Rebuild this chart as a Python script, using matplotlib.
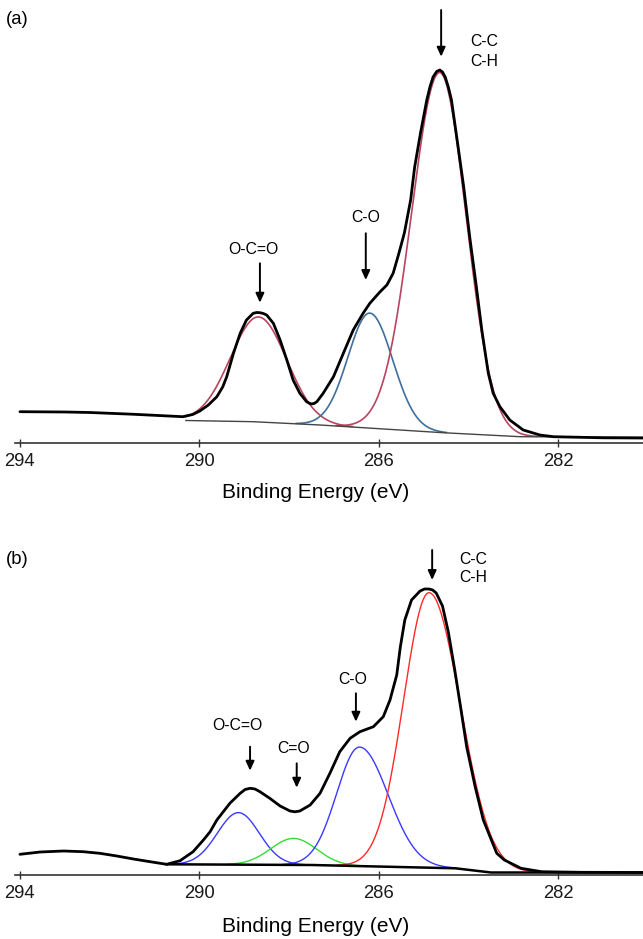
import numpy as np
import matplotlib
matplotlib.use('Agg')
import matplotlib.pyplot as plt

plt.rcParams['font.family'] = ['Liberation Sans', 'DejaVu Sans']

# ---------------- Panel (a) ----------------
a_energy = [294.00, 293.00, 292.44, 291.50, 290.37, 290.15, 289.99, 289.80, 289.61, 289.48,
            289.39, 289.24, 289.09, 288.95, 288.80, 288.72, 288.65, 288.58, 288.50, 288.35,
            288.20, 288.05, 287.91, 287.76, 287.61, 287.55, 287.50, 287.44, 287.38, 287.24,
            287.01, 286.79, 286.57, 286.35, 286.20, 285.97, 285.82, 285.68, 285.55, 285.43,
            285.29, 285.20, 285.07, 284.93, 284.86, 284.79, 284.71, 284.64, 284.58, 284.52,
            284.45, 284.38, 284.25, 284.11, 283.97, 283.83, 283.70, 283.56, 283.45, 283.30,
            283.08, 282.78, 282.41, 282.11, 281.00, 280.11]
a_counts = [31.3, 31.0, 30.5, 28.8, 26.3, 28.5, 32.0, 38.0, 46.3, 56.0,
            66.3, 89.7, 109.7, 123.0, 129.7, 130.5, 130.3, 129.6, 128.0, 119.7,
            103.0, 83.0, 63.0, 49.7, 41.3, 39.8, 39.0, 39.6, 41.3, 49.7,
            66.3, 89.7, 113.0, 129.7, 139.7, 151.3, 158.0, 169.7, 190.0, 210.0,
            243.0, 276.0, 310.0, 343.0, 356.0, 366.0, 371.5, 373.0, 371.0, 366.0,
            356.0, 343.0, 302.0, 257.0, 205.0, 158.0, 112.0, 70.0, 49.7, 36.3,
            23.0, 13.0, 8.0, 6.3, 5.2, 5.0]
a_bg_energy = [290.30, 288.80, 287.31, 284.57, 282.85, 280.11]
a_bg_counts = [22.5, 21.3, 18.0, 10.3, 6.3, 5.7]

a_peak_names = ['O-C=O', 'C-O', 'C-C']
a_peak_center = [288.68, 286.20, 284.64]
a_peak_height = [105.0, 115.0, 360.0]
a_hw_high = [0.74, 0.575, 0.74]
a_hw_low = [0.74, 0.60, 0.69]
a_peak_colors = ['#b8445f', '#3f6f9c', '#b8445f']

# ---------------- Panel (b) ----------------
b_energy = [294.00, 293.55, 293.03, 292.59, 292.22, 291.84, 291.47, 291.10, 290.73, 290.43,
            290.14, 289.91, 289.76, 289.61, 289.32, 289.09, 288.98, 288.87, 288.76, 288.65,
            288.43, 288.20, 287.98, 287.87, 287.76, 287.53, 287.31, 287.09, 286.87, 286.64,
            286.42, 286.12, 285.90, 285.75, 285.60, 285.52, 285.42, 285.27, 285.08, 284.98,
            284.88, 284.80, 284.72, 284.58, 284.45, 284.31, 284.17, 284.04, 283.85, 283.67,
            283.37, 283.20, 282.83, 282.37, 281.50, 280.11]
b_counts = [20.7, 23.0, 24.0, 23.3, 21.7, 19.0, 16.0, 13.3, 10.7, 14.3,
            23.3, 35.0, 43.3, 55.0, 71.7, 81.7, 85.5, 86.7, 86.0, 83.3,
            76.7, 69.0, 64.0, 63.2, 64.0, 70.0, 81.7, 101.7, 123.3, 136.7,
            143.3, 148.3, 158.3, 175.0, 200.0, 228.0, 255.0, 275.0, 284.0, 286.0,
            286.0, 285.0, 282.0, 269.0, 243.0, 206.0, 166.0, 128.0, 88.0, 55.0,
            21.7, 15.0, 6.7, 3.3, 2.7, 2.5]
b_bg_energy = [290.73, 287.49, 284.29, 283.50, 280.11]
b_bg_counts = [10.7, 10.0, 6.7, 2.5, 2.5]

b_peak_names = ['O-C=O', 'C=O', 'C-O', 'C-C']
b_peak_center = [289.13, 287.90, 286.43, 284.88]
b_peak_height = [52.0, 26.5, 119.0, 275.0]
b_hw_high = [0.55, 0.60, 0.60, 0.67]
b_hw_low = [0.55, 0.60, 0.75, 0.81]
b_peak_colors = ['#3a3aff', '#33dd33', '#3a3aff', '#ff2a2a']

tick_values = [294, 290, 286, 282]

W, H = 643, 939
fig = plt.figure(figsize=(W / 100, H / 100), dpi=100)


def split_gauss(e, c, h, hw_hi, hw_lo):
    hw = np.where(e >= c, hw_hi, hw_lo)
    return h * np.exp(-np.log(2) * ((e - c) / hw) ** 2)


def make_axes(top_px, axis_px):
    ax = fig.add_axes([15 / W, (H - axis_px) / H, 628 / W, (axis_px - top_px) / H])
    ax.set_xlim(294.11, 280.11)
    ax.set_ylim(0, axis_px - top_px)
    for s in ['top', 'left', 'right']:
        ax.spines[s].set_visible(False)
    ax.spines['bottom'].set_color('#333333')
    ax.spines['bottom'].set_linewidth(1.2)
    ax.set_yticks([])
    ax.set_xticks(tick_values)
    ax.set_xticklabels([str(t) for t in tick_values])
    ax.tick_params(axis='x', direction='inout', length=6, width=1.0, color='#333333',
                   labelsize=13.3, pad=4, labelcolor='#1a1a1a')
    ax.patch.set_alpha(0)
    return ax


def draw_components(ax, bgE, bgI, centers, heights, hwh, hwl, colors, lw):
    e = np.linspace(bgE[0], bgE[-1], 800)
    base = np.interp(e, bgE[::-1], bgI[::-1])
    for c, h, a, b, col in zip(centers, heights, hwh, hwl, colors):
        g = split_gauss(e, c, h, a, b)
        y = np.where(g > 0.4, base + g, np.nan)
        ax.plot(e, y, color=col, lw=lw, zorder=2)


def arrow(ax, x, y_tail, y_tip):
    ax.annotate('', xy=(x, y_tip), xytext=(x, y_tail),
                arrowprops=dict(arrowstyle='-|>,head_length=0.55,head_width=0.25',
                                lw=1.4, color='k', shrinkA=0, shrinkB=0,
                                mutation_scale=10), zorder=6)


# ---- (a) ----
ax_a = make_axes(0, 443)
draw_components(ax_a, a_bg_energy, a_bg_counts, a_peak_center, a_peak_height,
                a_hw_high, a_hw_low, a_peak_colors, 1.2)
ax_a.plot(a_bg_energy, a_bg_counts, color='#444444', lw=1.0, zorder=3)
ax_a.plot(a_energy, a_counts, color='k', lw=2.0, zorder=4,
          solid_joinstyle='round', solid_capstyle='round')

lab_fs = 11.3
arrow(ax_a, 288.65, 179.7, 140.3)
ax_a.text(288.80, 193.7, a_peak_names[0], ha='center', va='center', fontsize=lab_fs)
arrow(ax_a, 286.29, 209.7, 163.0)
ax_a.text(286.30, 225.0, a_peak_names[1], ha='center', va='center', fontsize=lab_fs)
arrow(ax_a, 284.61, 433.0, 386.3)
ax_a.text(283.95, 401.3, 'C-C', ha='left', va='center', fontsize=lab_fs)
ax_a.text(283.95, 381.3, 'C-H', ha='left', va='center', fontsize=lab_fs)

# ---- (b) ----
ax_b = make_axes(500, 875)
draw_components(ax_b, b_bg_energy, b_bg_counts, b_peak_center, b_peak_height,
                b_hw_high, b_hw_low, b_peak_colors, 1.0)
ax_b.plot(b_bg_energy, b_bg_counts, color='k', lw=1.8, zorder=3)
ax_b.plot(b_energy, b_counts, color='k', lw=2.0, zorder=4,
          solid_joinstyle='round', solid_capstyle='round')

arrow(ax_b, 288.87, 128.3, 104.3)
ax_b.text(289.15, 149.0, b_peak_names[0], ha='center', va='center', fontsize=lab_fs)
arrow(ax_b, 287.83, 111.7, 87.3)
ax_b.text(287.89, 126.7, b_peak_names[1], ha='center', va='center', fontsize=lab_fs)
arrow(ax_b, 286.51, 181.7, 153.3)
ax_b.text(286.58, 195.0, b_peak_names[2], ha='center', va='center', fontsize=lab_fs)
arrow(ax_b, 284.81, 325.0, 295.0)
ax_b.text(284.20, 315.0, 'C-C', ha='left', va='center', fontsize=lab_fs)
ax_b.text(284.20, 298.0, 'C-H', ha='left', va='center', fontsize=lab_fs)

# ---- labels ----
fig.text(316 / W, 1 - 493 / H, 'Binding Energy (eV)', ha='center', va='center', fontsize=15)
fig.text(316 / W, 1 - 926 / H, 'Binding Energy (eV)', ha='center', va='center', fontsize=15)
fig.text(6 / W, 1 - 20 / H, '(a)', ha='left', va='center', fontsize=13.3)
fig.text(6 / W, 1 - 559 / H, '(b)', ha='left', va='center', fontsize=13.3)

fig.savefig('out.png', dpi=100)
